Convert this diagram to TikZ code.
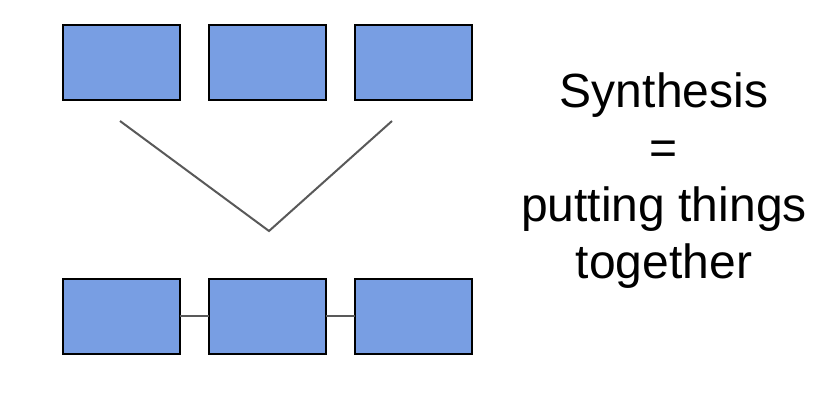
\documentclass[tikz,border=0pt]{standalone}
\usepackage{fontspec}
\setmainfont{Liberation Sans}
\definecolor{boxblue}{RGB}{120,158,227}
\definecolor{linegray}{RGB}{89,89,89}
\begin{document}
\begin{tikzpicture}[x=1pt,y=-1pt,
  blockbox/.style={draw=black,line width=2pt,fill=boxblue,minimum width=117pt,minimum height=75pt,inner sep=0pt,outer sep=0pt},
  link/.style={draw=linegray,line width=2pt}]
\useasboundingbox (0,0) rectangle (826,400);
\node[blockbox] (t1) at (121,62) {};
\node[blockbox] (t2) at (267,62) {};
\node[blockbox] (t3) at (413,62) {};
\node[blockbox] (b1) at (121,316) {};
\node[blockbox] (b2) at (267,316) {};
\node[blockbox] (b3) at (413,316) {};
\coordinate (vl) at (120,121);
\coordinate (vb) at (269,231);
\coordinate (vr) at (392,121);
\draw[link] (vl) -- (vb) -- (vr);
\draw[link] (b1.east) -- (b2.west);
\draw[link] (b2.east) -- (b3.west);
\node[align=center,font=\fontsize{48pt}{57pt}\selectfont,anchor=base,inner sep=0pt] (txt) at (664,278) {Synthesis\\=\\putting things\\together};
\end{tikzpicture}
\end{document}
